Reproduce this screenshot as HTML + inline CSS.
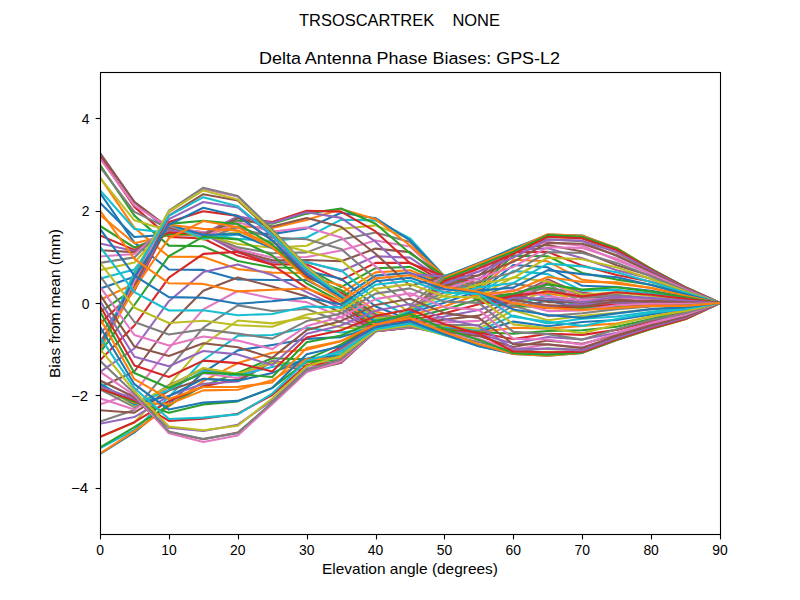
<!DOCTYPE html>
<html><head><meta charset="utf-8"><style>
html,body{margin:0;padding:0;background:#fff;width:800px;height:600px;overflow:hidden}
svg{display:block}
text{font-family:"Liberation Sans",sans-serif;fill:#000}
</style></head><body>
<svg width="800" height="600" viewBox="0 0 800 600">
<defs><clipPath id="c"><rect x="100" y="72" width="620" height="462"/></clipPath></defs>
<g clip-path="url(#c)" fill="none" stroke-width="2.08" stroke-linejoin="round" stroke-linecap="square">
<polyline points="100.0,192.9 134.4,242.6 168.9,269.5 203.3,269.9 237.8,279.5 272.2,280.0 306.7,280.0 341.1,297.6 375.6,275.6 410.0,272.9 444.4,285.1 478.9,292.9 513.3,298.4 547.8,300.8 582.2,303.0 616.7,303.0 651.1,303.0 685.6,304.7 720.0,303.0" stroke="#1f77b4"/>
<polyline points="100.0,177.3 134.4,227.8 168.9,256.7 203.3,256.9 237.8,269.1 272.2,272.6 306.7,273.0 341.1,293.0 375.6,272.4 410.0,270.2 444.4,283.8 478.9,294.4 513.3,295.3 547.8,293.9 582.2,297.5 616.7,299.3 651.1,301.1 685.6,303.9 720.0,303.0" stroke="#ff7f0e"/>
<polyline points="100.0,164.9 134.4,215.6 168.9,245.6 203.3,246.2 237.8,261.0 272.2,267.5 306.7,267.9 341.1,287.1 375.6,268.2 410.0,266.9 444.4,282.7 478.9,296.1 513.3,294.0 547.8,287.8 582.2,294.1 616.7,297.0 651.1,300.0 685.6,303.4 720.0,303.0" stroke="#2ca02c"/>
<polyline points="100.0,156.6 134.4,206.9 168.9,236.9 203.3,238.5 237.8,255.6 272.2,264.4 306.7,264.4 341.1,279.9 375.6,262.9 410.0,262.7 444.4,281.8 478.9,297.7 513.3,294.2 547.8,283.0 582.2,292.8 616.7,296.2 651.1,299.8 685.6,303.2 720.0,303.0" stroke="#d62728"/>
<polyline points="100.0,152.9 134.4,202.2 168.9,231.0 203.3,233.9 237.8,252.4 272.2,262.3 306.7,262.1 341.1,271.2 375.6,256.3 410.0,257.6 444.4,280.8 478.9,298.9 513.3,295.6 547.8,280.0 582.2,293.5 616.7,296.9 651.1,300.3 685.6,303.2 720.0,303.0" stroke="#9467bd"/>
<polyline points="100.0,153.7 134.4,201.9 168.9,227.9 203.3,232.2 237.8,250.7 272.2,260.3 306.7,260.0 341.1,261.3 375.6,248.6 410.0,252.1 444.4,279.7 478.9,299.7 513.3,297.9 547.8,279.3 582.2,295.8 616.7,298.7 651.1,301.3 685.6,303.3 720.0,303.0" stroke="#8c564b"/>
<polyline points="100.0,158.6 134.4,205.4 168.9,227.3 203.3,232.4 237.8,249.4 272.2,257.5 306.7,257.0 341.1,250.5 375.6,240.4 410.0,246.6 444.4,278.7 478.9,300.1 513.3,300.6 547.8,280.7 582.2,299.0 616.7,301.2 651.1,302.6 685.6,303.5 720.0,303.0" stroke="#e377c2"/>
<polyline points="100.0,167.0 134.4,211.9 168.9,228.5 203.3,233.6 237.8,247.4 272.2,253.3 306.7,252.4 341.1,239.4 375.6,232.4 410.0,242.0 444.4,277.8 478.9,300.4 513.3,303.1 547.8,284.2 582.2,302.4 616.7,303.9 651.1,303.9 685.6,303.7 720.0,303.0" stroke="#7f7f7f"/>
<polyline points="100.0,177.8 134.4,220.3 168.9,230.7 203.3,235.0 237.8,244.0 272.2,247.7 306.7,245.8 341.1,228.8 375.6,225.4 410.0,238.9 444.4,277.0 478.9,300.6 513.3,305.3 547.8,289.2 582.2,305.4 616.7,306.2 651.1,305.0 685.6,303.8 720.0,303.0" stroke="#bcbd22"/>
<polyline points="100.0,190.1 134.4,229.0 168.9,232.9 203.3,235.7 237.8,238.9 272.2,241.0 306.7,237.5 341.1,219.7 375.6,220.4 410.0,238.3 444.4,276.5 478.9,300.9 513.3,306.8 547.8,294.9 582.2,307.5 616.7,307.8 651.1,305.7 685.6,303.9 720.0,303.0" stroke="#17becf"/>
<polyline points="100.0,202.8 134.4,237.0 168.9,234.6 203.3,235.7 237.8,232.7 272.2,234.1 306.7,228.4 341.1,212.8 375.6,218.2 410.0,240.4 444.4,276.2 478.9,301.1 513.3,307.4 547.8,300.5 582.2,308.5 616.7,308.4 651.1,306.0 685.6,303.9 720.0,303.0" stroke="#1f77b4"/>
<polyline points="100.0,214.9 134.4,243.3 168.9,235.0 203.3,235.0 237.8,226.3 272.2,228.0 306.7,220.0 341.1,209.0 375.6,219.2 410.0,245.5 444.4,276.1 478.9,301.3 513.3,307.0 547.8,305.0 582.2,308.5 616.7,308.0 651.1,305.9 685.6,303.8 720.0,303.0" stroke="#ff7f0e"/>
<polyline points="100.0,225.9 134.4,247.5 168.9,234.3 203.3,234.2 237.8,220.7 272.2,223.7 306.7,213.6 341.1,208.5 375.6,223.7 410.0,253.3 444.4,276.1 478.9,301.4 513.3,305.6 547.8,307.7 582.2,307.6 616.7,306.7 651.1,305.3 685.6,303.7 720.0,303.0" stroke="#2ca02c"/>
<polyline points="100.0,235.4 134.4,249.9 168.9,232.4 203.3,233.8 237.8,217.2 272.2,222.0 306.7,210.7 341.1,211.6 375.6,231.4 410.0,263.2 444.4,276.3 478.9,301.2 513.3,303.0 547.8,308.2 582.2,306.1 616.7,304.7 651.1,304.4 685.6,303.4 720.0,303.0" stroke="#d62728"/>
<polyline points="100.0,243.4 134.4,251.1 168.9,229.9 203.3,234.2 237.8,216.3 272.2,223.0 306.7,212.2 341.1,217.9 375.6,241.7 410.0,274.4 444.4,276.4 478.9,300.8 513.3,299.5 547.8,306.3 582.2,304.4 616.7,302.3 651.1,303.2 685.6,303.0 720.0,303.0" stroke="#9467bd"/>
<polyline points="100.0,250.2 134.4,252.1 168.9,227.4 203.3,235.5 237.8,218.2 272.2,226.5 306.7,218.0 341.1,226.8 375.6,253.7 410.0,285.8 444.4,276.4 478.9,300.1 513.3,294.9 547.8,302.1 582.2,302.4 616.7,299.8 651.1,301.8 685.6,302.4 720.0,303.0" stroke="#8c564b"/>
<polyline points="100.0,256.5 134.4,254.0 168.9,225.4 203.3,237.3 237.8,222.3 272.2,231.7 306.7,227.4 341.1,237.4 375.6,266.4 410.0,296.4 444.4,276.4 478.9,299.1 513.3,289.5 547.8,296.2 582.2,300.3 616.7,297.3 651.1,300.1 685.6,301.6 720.0,303.0" stroke="#e377c2"/>
<polyline points="100.0,262.9 134.4,257.4 168.9,224.2 203.3,239.0 237.8,227.3 272.2,237.6 306.7,239.2 341.1,248.9 375.6,278.8 410.0,305.5 444.4,276.3 478.9,297.8 513.3,283.5 547.8,289.1 582.2,297.8 616.7,294.9 651.1,298.2 685.6,300.6 720.0,303.0" stroke="#7f7f7f"/>
<polyline points="100.0,270.1 134.4,262.6 168.9,223.8 203.3,239.8 237.8,231.8 272.2,242.8 306.7,251.5 341.1,260.1 375.6,290.0 410.0,312.5 444.4,276.2 478.9,296.2 513.3,277.2 547.8,281.5 582.2,294.7 616.7,292.4 651.1,296.0 685.6,299.5 720.0,303.0" stroke="#bcbd22"/>
<polyline points="100.0,278.7 134.4,269.4 168.9,224.1 203.3,238.6 237.8,234.4 272.2,246.6 306.7,262.6 341.1,270.3 375.6,299.4 410.0,317.2 444.4,276.2 478.9,294.4 513.3,270.9 547.8,274.1 582.2,290.8 616.7,289.9 651.1,293.5 685.6,298.2 720.0,303.0" stroke="#17becf"/>
<polyline points="100.0,288.7 134.4,276.7 168.9,224.6 203.3,235.0 237.8,234.0 272.2,248.1 306.7,271.1 341.1,278.8 375.6,306.5 410.0,319.8 444.4,276.1 478.9,292.3 513.3,265.0 547.8,267.3 582.2,285.8 616.7,287.0 651.1,290.8 685.6,296.8 720.0,303.0" stroke="#1f77b4"/>
<polyline points="100.0,300.0 134.4,283.6 168.9,224.7 203.3,228.9 237.8,230.4 272.2,247.3 306.7,276.1 341.1,285.4 375.6,311.4 410.0,320.7 444.4,276.2 478.9,289.8 513.3,259.8 547.8,261.3 582.2,279.8 616.7,283.6 651.1,287.8 685.6,295.3 720.0,303.0" stroke="#ff7f0e"/>
<polyline points="100.0,312.0 134.4,288.6 168.9,223.9 203.3,220.7 237.8,224.0 272.2,244.5 306.7,277.6 341.1,290.1 375.6,314.3 410.0,320.4 444.4,276.2 478.9,286.8 513.3,255.6 547.8,256.2 582.2,272.9 616.7,279.6 651.1,284.7 685.6,293.8 720.0,303.0" stroke="#2ca02c"/>
<polyline points="100.0,323.8 134.4,290.9 168.9,222.1 203.3,211.3 237.8,215.9 272.2,240.4 306.7,276.3 341.1,292.9 375.6,315.7 410.0,319.6 444.4,276.3 478.9,283.4 513.3,252.3 547.8,251.9 582.2,265.6 616.7,275.1 651.1,281.7 685.6,292.4 720.0,303.0" stroke="#d62728"/>
<polyline points="100.0,334.4 134.4,290.0 168.9,219.1 203.3,202.0 237.8,207.5 272.2,236.1 306.7,273.2 341.1,294.4 375.6,316.1 410.0,318.6 444.4,276.3 478.9,279.5 513.3,250.1 547.8,248.3 582.2,258.2 616.7,270.2 651.1,278.7 685.6,291.1 720.0,303.0" stroke="#9467bd"/>
<polyline points="100.0,342.7 134.4,286.4 168.9,215.7 203.3,194.2 237.8,200.6 272.2,232.3 306.7,269.7 341.1,295.0 375.6,316.2 410.0,317.9 444.4,276.3 478.9,275.5 513.3,248.8 547.8,245.0 582.2,251.4 616.7,265.2 651.1,276.0 685.6,290.0 720.0,303.0" stroke="#8c564b"/>
<polyline points="100.0,348.3 134.4,281.0 168.9,212.5 203.3,189.1 237.8,196.5 272.2,230.0 306.7,267.1 341.1,295.1 375.6,316.4 410.0,317.4 444.4,276.2 478.9,271.5 513.3,248.1 547.8,242.1 582.2,245.6 616.7,260.4 651.1,273.7 685.6,289.1 720.0,303.0" stroke="#e377c2"/>
<polyline points="100.0,351.0 134.4,275.6 168.9,210.7 203.3,187.7 237.8,196.0 272.2,229.5 306.7,266.2 341.1,295.1 375.6,317.1 410.0,317.2 444.4,276.1 478.9,267.9 513.3,247.9 547.8,239.5 582.2,241.1 616.7,256.1 651.1,271.8 685.6,288.4 720.0,303.0" stroke="#7f7f7f"/>
<polyline points="100.0,351.2 134.4,272.1 168.9,211.5 203.3,190.4 237.8,199.4 272.2,231.2 306.7,267.2 341.1,295.4 375.6,318.4 410.0,317.0 444.4,276.1 478.9,265.1 513.3,248.0 547.8,237.2 582.2,238.0 616.7,252.5 651.1,270.4 685.6,287.9 720.0,303.0" stroke="#bcbd22"/>
<polyline points="100.0,350.0 134.4,272.3 168.9,215.9 203.3,197.2 237.8,206.3 272.2,234.8 306.7,270.1 341.1,296.1 375.6,320.3 410.0,316.6 444.4,276.3 478.9,263.3 513.3,248.3 547.8,235.5 582.2,236.1 616.7,250.0 651.1,269.5 685.6,287.5 720.0,303.0" stroke="#17becf"/>
<polyline points="100.0,348.8 134.4,277.6 168.9,224.8 203.3,207.7 237.8,215.9 272.2,240.3 306.7,274.2 341.1,297.4 375.6,322.7 410.0,315.8 444.4,276.8 478.9,262.9 513.3,248.9 547.8,234.5 582.2,235.5 616.7,248.4 651.1,268.9 685.6,287.3 720.0,303.0" stroke="#1f77b4"/>
<polyline points="100.0,349.3 134.4,288.6 168.9,238.3 203.3,221.1 237.8,227.3 272.2,247.2 306.7,278.9 341.1,299.2 375.6,325.2 410.0,314.6 444.4,277.8 478.9,263.7 513.3,250.0 547.8,234.3 582.2,235.8 616.7,248.0 651.1,268.8 685.6,287.3 720.0,303.0" stroke="#ff7f0e"/>
<polyline points="100.0,352.9 134.4,305.0 168.9,256.2 203.3,236.7 237.8,239.4 272.2,255.5 306.7,283.5 341.1,301.6 375.6,327.6 410.0,312.9 444.4,279.2 478.9,265.6 513.3,251.6 547.8,235.1 582.2,236.8 616.7,248.5 651.1,269.0 685.6,287.4 720.0,303.0" stroke="#2ca02c"/>
<polyline points="100.0,360.4 134.4,325.5 168.9,277.6 203.3,253.9 237.8,251.9 272.2,264.8 306.7,287.9 341.1,304.7 375.6,329.6 410.0,311.1 444.4,281.1 478.9,268.4 513.3,254.1 547.8,236.8 582.2,238.4 616.7,250.0 651.1,269.7 685.6,287.6 720.0,303.0" stroke="#d62728"/>
<polyline points="100.0,372.0 134.4,348.5 168.9,301.2 203.3,272.1 237.8,264.5 272.2,275.1 306.7,292.1 341.1,308.3 375.6,330.9 410.0,309.4 444.4,283.5 478.9,271.6 513.3,257.5 547.8,239.5 582.2,240.7 616.7,252.3 651.1,270.7 685.6,288.1 720.0,303.0" stroke="#9467bd"/>
<polyline points="100.0,387.2 134.4,371.5 168.9,325.3 203.3,290.7 237.8,277.5 272.2,286.5 306.7,296.6 341.1,312.6 375.6,331.5 410.0,308.1 444.4,286.2 478.9,275.0 513.3,261.8 547.8,242.9 582.2,243.8 616.7,255.3 651.1,272.1 685.6,288.7 720.0,303.0" stroke="#8c564b"/>
<polyline points="100.0,404.4 134.4,392.7 168.9,348.4 203.3,309.4 237.8,291.0 272.2,298.5 306.7,302.1 341.1,317.3 375.6,331.4 410.0,307.4 444.4,289.2 478.9,278.3 513.3,266.9 547.8,247.2 582.2,247.9 616.7,258.8 651.1,274.0 685.6,289.4 720.0,303.0" stroke="#e377c2"/>
<polyline points="100.0,421.7 134.4,410.0 168.9,368.8 203.3,327.7 237.8,305.4 272.2,311.0 306.7,309.0 341.1,322.3 375.6,330.7 410.0,307.6 444.4,292.5 478.9,281.4 513.3,272.4 547.8,252.1 582.2,253.0 616.7,262.9 651.1,276.3 685.6,290.4 720.0,303.0" stroke="#7f7f7f"/>
<polyline points="100.0,437.0 134.4,422.5 168.9,385.3 203.3,344.8 237.8,320.5 272.2,323.4 306.7,317.6 341.1,327.5 375.6,329.6 410.0,308.6 444.4,295.8 478.9,284.3 513.3,278.0 547.8,257.6 582.2,259.2 616.7,267.4 651.1,278.9 685.6,291.5 720.0,303.0" stroke="#bcbd22"/>
<polyline points="100.0,448.2 134.4,429.9 168.9,397.1 203.3,360.0 237.8,335.8 272.2,335.0 306.7,327.8 341.1,332.5 375.6,328.2 410.0,310.4 444.4,299.3 478.9,287.3 513.3,283.1 547.8,263.6 582.2,266.4 616.7,272.2 651.1,281.9 685.6,292.8 720.0,303.0" stroke="#17becf"/>
<polyline points="100.0,453.9 134.4,432.4 168.9,404.0 203.3,372.4 237.8,350.4 272.2,345.0 306.7,338.9 341.1,337.1 375.6,326.9 410.0,312.7 444.4,302.8 478.9,290.6 513.3,287.6 547.8,270.1 582.2,274.1 616.7,277.2 651.1,285.0 685.6,294.2 720.0,303.0" stroke="#1f77b4"/>
<polyline points="100.0,453.5 134.4,431.1 168.9,406.4 203.3,381.2 237.8,363.1 272.2,352.8 306.7,349.8 341.1,341.2 375.6,325.9 410.0,315.2 444.4,306.3 478.9,294.5 513.3,291.2 547.8,277.0 582.2,282.0 616.7,282.3 651.1,288.3 685.6,295.7 720.0,303.0" stroke="#ff7f0e"/>
<polyline points="100.0,447.4 134.4,427.2 168.9,405.1 203.3,385.9 237.8,372.9 272.2,358.2 306.7,359.4 341.1,344.4 375.6,325.2 410.0,317.8 444.4,309.8 478.9,299.1 513.3,293.9 547.8,284.2 582.2,289.6 616.7,287.3 651.1,291.6 685.6,297.3 720.0,303.0" stroke="#2ca02c"/>
<polyline points="100.0,436.9 134.4,422.2 168.9,401.1 203.3,386.5 237.8,379.1 272.2,361.1 306.7,366.7 341.1,346.9 375.6,325.0 410.0,320.2 444.4,313.2 478.9,304.3 513.3,295.9 547.8,291.5 582.2,296.4 616.7,292.2 651.1,294.8 685.6,298.9 720.0,303.0" stroke="#d62728"/>
<polyline points="100.0,423.8 134.4,417.1 168.9,395.8 203.3,383.7 237.8,381.5 272.2,361.9 306.7,370.9 341.1,348.6 375.6,325.3 410.0,322.2 444.4,316.6 478.9,310.0 513.3,297.7 547.8,298.6 582.2,302.2 616.7,296.8 651.1,297.9 685.6,300.6 720.0,303.0" stroke="#9467bd"/>
<polyline points="100.0,410.3 134.4,412.7 168.9,390.6 203.3,378.7 237.8,380.7 272.2,361.5 306.7,372.0 341.1,349.7 375.6,326.1 410.0,323.8 444.4,319.6 478.9,315.6 513.3,299.7 547.8,305.2 582.2,306.8 616.7,301.2 651.1,300.9 685.6,302.2 720.0,303.0" stroke="#8c564b"/>
<polyline points="100.0,398.3 134.4,409.4 168.9,386.7 203.3,373.2 237.8,378.0 272.2,361.0 306.7,370.3 341.1,350.6 375.6,327.0 410.0,325.0 444.4,322.4 478.9,320.9 513.3,302.3 547.8,311.1 582.2,310.4 616.7,305.3 651.1,303.7 685.6,303.7 720.0,303.0" stroke="#e377c2"/>
<polyline points="100.0,389.4 134.4,407.1 168.9,385.1 203.3,369.1 237.8,375.0 272.2,361.2 306.7,366.9 341.1,351.5 375.6,328.1 410.0,325.9 444.4,324.7 478.9,325.3 513.3,305.7 547.8,316.1 582.2,313.3 616.7,309.1 651.1,306.5 685.6,305.2 720.0,303.0" stroke="#7f7f7f"/>
<polyline points="100.0,384.3 134.4,405.7 168.9,386.1 203.3,368.0 237.8,373.7 272.2,363.1 306.7,363.1 341.1,352.6 375.6,329.2 410.0,326.4 444.4,326.4 478.9,328.6 513.3,310.2 547.8,320.2 582.2,315.9 616.7,312.8 651.1,309.2 685.6,306.5 720.0,303.0" stroke="#bcbd22"/>
<polyline points="100.0,382.8 134.4,404.7 168.9,389.9 203.3,371.2 237.8,375.4 272.2,367.0 306.7,360.0 341.1,354.0 375.6,330.0 410.0,326.8 444.4,327.7 478.9,330.7 513.3,315.6 547.8,323.5 582.2,318.7 616.7,316.5 651.1,311.8 685.6,307.8 720.0,303.0" stroke="#17becf"/>
<polyline points="100.0,384.1 134.4,403.9 168.9,396.1 203.3,378.9 237.8,380.8 272.2,372.9 306.7,358.6 341.1,355.9 375.6,330.7 410.0,327.1 444.4,328.6 478.9,331.7 513.3,321.6 547.8,326.2 582.2,322.0 616.7,320.0 651.1,314.4 685.6,308.9 720.0,303.0" stroke="#1f77b4"/>
<polyline points="100.0,386.6 134.4,402.9 168.9,404.1 203.3,390.4 237.8,389.8 272.2,380.2 306.7,359.2 341.1,358.0 375.6,331.0 410.0,327.3 444.4,329.3 478.9,332.1 513.3,327.8 547.8,328.6 582.2,325.9 616.7,323.5 651.1,316.8 685.6,310.0 720.0,303.0" stroke="#ff7f0e"/>
<polyline points="100.0,388.7 134.4,401.7 168.9,412.7 203.3,404.4 237.8,401.4 272.2,387.9 306.7,361.6 341.1,360.0 375.6,331.2 410.0,327.5 444.4,329.8 478.9,332.3 513.3,333.7 547.8,331.0 582.2,330.3 616.7,326.8 651.1,319.1 685.6,311.1 720.0,303.0" stroke="#2ca02c"/>
<polyline points="100.0,389.0 134.4,400.2 168.9,420.9 203.3,418.7 237.8,413.7 272.2,395.0 306.7,365.1 341.1,361.7 375.6,331.3 410.0,327.6 444.4,330.5 478.9,332.8 513.3,339.1 547.8,333.8 582.2,334.9 616.7,329.9 651.1,321.2 685.6,312.1 720.0,303.0" stroke="#d62728"/>
<polyline points="100.0,386.4 134.4,398.7 168.9,427.6 203.3,431.0 237.8,424.7 272.2,400.4 306.7,368.7 341.1,362.7 375.6,331.2 410.0,327.6 444.4,331.3 478.9,334.1 513.3,343.6 547.8,337.0 582.2,339.5 616.7,332.7 651.1,323.0 685.6,313.1 720.0,303.0" stroke="#9467bd"/>
<polyline points="100.0,380.5 134.4,397.0 168.9,432.0 203.3,439.3 237.8,432.5 272.2,403.6 306.7,371.2 341.1,362.7 375.6,331.2 410.0,327.4 444.4,332.3 478.9,336.1 513.3,347.1 547.8,340.6 582.2,343.7 616.7,335.0 651.1,324.6 685.6,314.2 720.0,303.0" stroke="#8c564b"/>
<polyline points="100.0,371.7 134.4,395.3 168.9,433.3 203.3,442.1 237.8,435.4 272.2,404.2 306.7,371.9 341.1,361.5 375.6,331.0 410.0,327.1 444.4,333.4 478.9,338.9 513.3,349.6 547.8,344.5 582.2,347.2 616.7,336.8 651.1,325.8 685.6,315.2 720.0,303.0" stroke="#e377c2"/>
<polyline points="100.0,360.7 134.4,393.4 168.9,431.4 203.3,438.9 237.8,433.1 272.2,402.3 306.7,370.2 341.1,359.2 375.6,330.8 410.0,326.4 444.4,334.5 478.9,342.0 513.3,351.4 547.8,348.4 582.2,349.8 616.7,338.2 651.1,326.8 685.6,316.3 720.0,303.0" stroke="#7f7f7f"/>
<polyline points="100.0,348.8 134.4,391.0 168.9,426.5 203.3,430.3 237.8,425.7 272.2,398.5 306.7,366.3 341.1,355.7 375.6,330.2 410.0,325.3 444.4,335.2 478.9,344.7 513.3,352.7 547.8,351.8 582.2,351.5 616.7,339.1 651.1,327.6 685.6,317.3 720.0,303.0" stroke="#bcbd22"/>
<polyline points="100.0,337.2 134.4,388.1 168.9,419.0 203.3,417.6 237.8,414.4 272.2,393.6 306.7,360.7 341.1,351.3 375.6,329.1 410.0,323.6 444.4,335.1 478.9,346.3 513.3,353.5 547.8,354.3 582.2,352.5 616.7,339.7 651.1,328.3 685.6,318.2 720.0,303.0" stroke="#17becf"/>
<polyline points="100.0,326.8 134.4,384.2 168.9,409.6 203.3,402.5 237.8,400.9 272.2,388.1 306.7,354.3 341.1,346.3 375.6,327.2 410.0,321.2 444.4,334.2 478.9,346.3 513.3,353.9 547.8,355.7 582.2,352.9 616.7,340.0 651.1,328.7 685.6,318.8 720.0,303.0" stroke="#1f77b4"/>
<polyline points="100.0,318.3 134.4,379.2 168.9,399.0 203.3,387.0 237.8,386.9 272.2,382.5 306.7,347.9 341.1,340.9 375.6,324.5 410.0,318.0 444.4,332.0 478.9,344.2 513.3,353.9 547.8,355.8 582.2,352.9 616.7,340.0 651.1,328.9 685.6,319.2 720.0,303.0" stroke="#ff7f0e"/>
<polyline points="100.0,311.5 134.4,373.0 168.9,388.0 203.3,372.7 237.8,374.1 272.2,377.0 306.7,342.2 341.1,335.5 375.6,320.7 410.0,314.0 444.4,328.7 478.9,339.9 513.3,353.2 547.8,354.6 582.2,352.6 616.7,339.7 651.1,328.8 685.6,319.1 720.0,303.0" stroke="#2ca02c"/>
<polyline points="100.0,306.0 134.4,365.5 168.9,377.0 203.3,360.6 237.8,363.1 272.2,371.4 306.7,337.5 341.1,330.3 375.6,316.1 410.0,309.3 444.4,324.2 478.9,333.7 513.3,351.5 547.8,352.2 582.2,351.8 616.7,339.1 651.1,328.2 685.6,318.7 720.0,303.0" stroke="#d62728"/>
<polyline points="100.0,300.7 134.4,356.7 168.9,366.3 203.3,351.0 237.8,354.4 272.2,365.2 306.7,333.7 341.1,325.4 375.6,310.7 410.0,304.1 444.4,318.9 478.9,326.1 513.3,348.6 547.8,348.7 582.2,350.5 616.7,337.9 651.1,327.1 685.6,317.8 720.0,303.0" stroke="#9467bd"/>
<polyline points="100.0,294.6 134.4,346.6 168.9,355.9 203.3,343.3 237.8,347.2 272.2,357.9 306.7,330.1 341.1,320.9 375.6,304.9 410.0,298.7 444.4,313.1 478.9,317.9 513.3,344.3 547.8,344.4 582.2,348.1 616.7,335.9 651.1,325.4 685.6,316.5 720.0,303.0" stroke="#8c564b"/>
<polyline points="100.0,286.6 134.4,335.0 168.9,345.4 203.3,336.5 237.8,340.6 272.2,349.1 306.7,326.1 341.1,317.0 375.6,299.1 410.0,293.3 444.4,307.2 478.9,309.9 513.3,338.7 547.8,339.5 582.2,344.6 616.7,333.0 651.1,323.0 685.6,314.8 720.0,303.0" stroke="#e377c2"/>
<polyline points="100.0,276.0 134.4,322.0 168.9,334.5 203.3,329.4 237.8,333.6 272.2,338.6 306.7,321.1 341.1,313.5 375.6,293.6 410.0,288.4 444.4,301.6 478.9,302.9 513.3,331.9 547.8,334.1 582.2,339.6 616.7,329.2 651.1,320.0 685.6,313.0 720.0,303.0" stroke="#7f7f7f"/>
<polyline points="100.0,262.6 134.4,307.7 168.9,323.0 203.3,320.8 237.8,325.3 272.2,326.7 306.7,314.5 341.1,310.3 375.6,288.8 410.0,284.1 444.4,296.6 478.9,297.5 513.3,324.4 547.8,328.2 582.2,333.3 616.7,324.5 651.1,316.5 685.6,311.0 720.0,303.0" stroke="#bcbd22"/>
<polyline points="100.0,246.7 134.4,292.1 168.9,310.5 203.3,310.3 237.8,315.2 272.2,314.0 306.7,306.6 341.1,307.4 375.6,284.7 410.0,280.6 444.4,292.5 478.9,293.9 513.3,316.8 547.8,321.8 582.2,325.9 616.7,319.1 651.1,312.8 685.6,309.1 720.0,303.0" stroke="#17becf"/>
<polyline points="100.0,228.9 134.4,275.6 168.9,297.1 203.3,297.7 237.8,303.7 272.2,301.3 306.7,297.6 341.1,304.5 375.6,281.3 410.0,277.7 444.4,289.2 478.9,292.1 513.3,309.5 547.8,315.0 582.2,317.9 616.7,313.4 651.1,309.1 685.6,307.3 720.0,303.0" stroke="#1f77b4"/>
<polyline points="100.0,210.5 134.4,258.8 168.9,283.3 203.3,283.9 237.8,291.4 272.2,289.7 306.7,288.5 341.1,301.4 375.6,278.4 410.0,275.3 444.4,286.8 478.9,291.9 513.3,303.3 547.8,307.9 582.2,310.0 616.7,307.9 651.1,305.8 685.6,305.9 720.0,303.0" stroke="#ff7f0e"/>
</g>
<rect x="100.5" y="72.5" width="620" height="462" fill="none" stroke="#000" stroke-width="1.11"/>
<g stroke="#000" stroke-width="1.11"><line x1="100.50" y1="534" x2="100.50" y2="539.4"/><line x1="169.50" y1="534" x2="169.50" y2="539.4"/><line x1="238.50" y1="534" x2="238.50" y2="539.4"/><line x1="307.50" y1="534" x2="307.50" y2="539.4"/><line x1="376.50" y1="534" x2="376.50" y2="539.4"/><line x1="444.50" y1="534" x2="444.50" y2="539.4"/><line x1="513.50" y1="534" x2="513.50" y2="539.4"/><line x1="582.50" y1="534" x2="582.50" y2="539.4"/><line x1="651.50" y1="534" x2="651.50" y2="539.4"/><line x1="720.50" y1="534" x2="720.50" y2="539.4"/><line x1="95.6" y1="488.50" x2="101" y2="488.50"/><line x1="95.6" y1="395.50" x2="101" y2="395.50"/><line x1="95.6" y1="303.50" x2="101" y2="303.50"/><line x1="95.6" y1="211.50" x2="101" y2="211.50"/><line x1="95.6" y1="118.50" x2="101" y2="118.50"/></g>
<g font-size="13.9"><text x="100.00" y="554.5" text-anchor="middle">0</text><text x="168.89" y="554.5" text-anchor="middle">10</text><text x="237.78" y="554.5" text-anchor="middle">20</text><text x="306.67" y="554.5" text-anchor="middle">30</text><text x="375.56" y="554.5" text-anchor="middle">40</text><text x="444.44" y="554.5" text-anchor="middle">50</text><text x="513.33" y="554.5" text-anchor="middle">60</text><text x="582.22" y="554.5" text-anchor="middle">70</text><text x="651.11" y="554.5" text-anchor="middle">80</text><text x="720.00" y="554.5" text-anchor="middle">90</text><text x="88.2" y="493.40" text-anchor="end" textLength="17.2" lengthAdjust="spacingAndGlyphs">−4</text><text x="88.2" y="401.00" text-anchor="end" textLength="17.2" lengthAdjust="spacingAndGlyphs">−2</text><text x="89.6" y="308.60" text-anchor="end">0</text><text x="89.6" y="216.20" text-anchor="end">2</text><text x="89.6" y="123.80" text-anchor="end">4</text></g>
<text x="410" y="573.5" font-size="13.9" text-anchor="middle" textLength="176" lengthAdjust="spacingAndGlyphs">Elevation angle (degrees)</text>
<text transform="translate(60.3,303.5) rotate(-90)" x="0" y="0" font-size="13.9" text-anchor="middle" textLength="149" lengthAdjust="spacingAndGlyphs">Bias from mean (mm)</text>
<text x="409.5" y="63.6" font-size="17.4" text-anchor="middle" textLength="301" lengthAdjust="spacingAndGlyphs">Delta Antenna Phase Biases: GPS-L2</text>
<text x="399.5" y="25.6" font-size="17.4" text-anchor="middle" textLength="201" lengthAdjust="spacingAndGlyphs" style="white-space:pre" xml:space="preserve">TRSOSCARTREK    NONE</text>
</svg>
</body></html>
